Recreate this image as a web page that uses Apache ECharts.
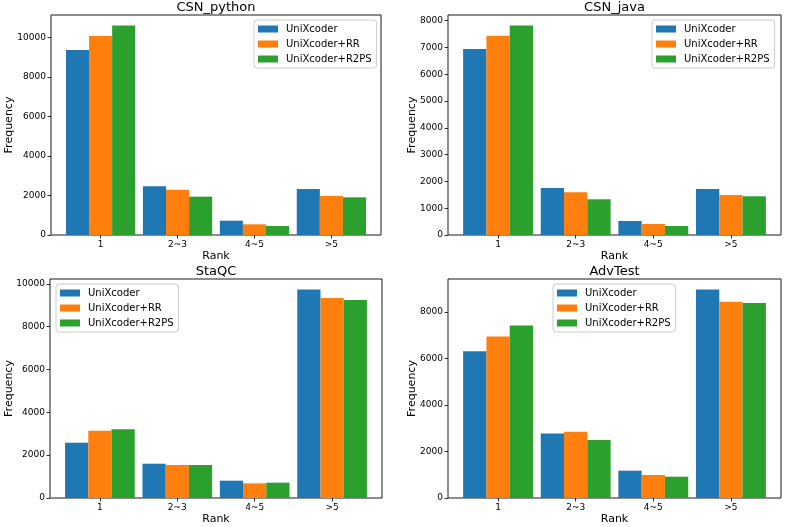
<!DOCTYPE html>
<html>
<head>
<meta charset="utf-8">
<script src="https://cdn.jsdelivr.net/npm/echarts@6/dist/echarts.min.js"></script>
<style>html,body{margin:0;padding:0;background:#fff}#c{width:789px;height:527px}</style>
</head>
<body>
<div id="c"></div>
<script>
const categories = ['1', '2~3', '4~5', '>5'];
const seriesNames = ['UniXcoder', 'UniXcoder+RR', 'UniXcoder+R2PS'];
const colors = ['#1f77b4', '#ff7f0e', '#2ca02c'];
const panelTitles = ['CSN_python', 'CSN_java', 'StaQC', 'AdvTest'];

const pythonUni  = [9360, 2460, 725, 2330];
const pythonRR   = [10070, 2290, 540, 1975];
const pythonR2PS = [10600, 1940, 455, 1905];
const javaUni    = [6940, 1757, 523, 1720];
const javaRR     = [7440, 1595, 411, 1495];
const javaR2PS   = [7820, 1333, 336, 1445];
const staqcUni   = [2580, 1600, 809, 9735];
const staqcRR    = [3140, 1540, 684, 9330];
const staqcR2PS  = [3205, 1540, 715, 9240];
const advUni     = [6300, 2776, 1174, 8960];
const advRR      = [6940, 2848, 987, 8430];
const advR2PS    = [7413, 2490, 916, 8372];

const pythonTicks = [0, 2000, 4000, 6000, 8000, 10000];
const javaTicks   = [0, 1000, 2000, 3000, 4000, 5000, 6000, 7000, 8000];
const staqcTicks  = [0, 2000, 4000, 6000, 8000, 10000];
const advTicks    = [0, 2000, 4000, 6000, 8000];

const panelData = [
  [pythonUni, pythonRR, pythonR2PS],
  [javaUni, javaRR, javaR2PS],
  [staqcUni, staqcRR, staqcR2PS],
  [advUni, advRR, advR2PS]
];
const panelTicks = [pythonTicks, javaTicks, staqcTicks, advTicks];

// layout (pixels)
const grids = [
  {left: 51, top: 15, width: 330, height: 220},
  {left: 448, top: 15, width: 333, height: 220},
  {left: 50, top: 279, width: 332, height: 219},
  {left: 448, top: 279, width: 333, height: 219}
];
const titleTops = [1, 1, 265, 265];
const legendPos = [
  {left: 254, top: 20},
  {left: 652, top: 20},
  {left: 56, top: 284},
  {left: 553, top: 284}
];
const yNameGap = [36, 30, 35, 30];

const font = 'DejaVu Sans';
const xMin = -0.645, xMax = 3.645;
const barUnits = 0.3;

const option = {
  animation: false,
  textStyle: {fontFamily: font},
  title: [], grid: [], xAxis: [], yAxis: [], legend: [], series: []
};

for (let p = 0; p < 4; p++) {
  const g = grids[p];
  option.grid.push({left: g.left, top: g.top, width: g.width, height: g.height,
    show: true, borderColor: '#000', borderWidth: 0.9, backgroundColor: 'transparent', containLabel: false});
  option.title.push({text: panelTitles[p], left: g.left + g.width / 2, top: titleTops[p], textAlign: 'center', padding: 0,
    textStyle: {fontFamily: font, fontSize: 13, fontWeight: 'normal', color: '#000'}});
  const maxV = Math.max(...panelData[p].flat()) * 1.05;
  option.xAxis.push({
    type: 'value', gridIndex: p, min: xMin, max: xMax,
    name: 'Rank', nameLocation: 'middle', nameGap: 16, nameMoveOverlap: false,
    nameTextStyle: {fontFamily: font, fontSize: 11, color: '#000'},
    axisLine: {show: false, onZero: false}, splitLine: {show: false},
    axisTick: {show: true, length: 3.5, lineStyle: {color: '#000', width: 0.8}, customValues: [0, 1, 2, 3]},
    axisLabel: {customValues: [0, 1, 2, 3], formatter: v => categories[Math.round(v)],
      fontFamily: font, fontSize: 9, color: '#000', margin: 5}
  });
  option.yAxis.push({
    type: 'value', gridIndex: p, min: 0, max: maxV,
    name: 'Frequency', nameLocation: 'middle', nameGap: yNameGap[p], nameMoveOverlap: false,
    nameTextStyle: {fontFamily: font, fontSize: 11, color: '#000'},
    axisLine: {show: false, onZero: false}, splitLine: {show: false},
    axisTick: {show: true, length: 3.5, lineStyle: {color: '#000', width: 0.8}, customValues: panelTicks[p]},
    axisLabel: {customValues: panelTicks[p], formatter: v => String(v),
      fontFamily: font, fontSize: 9, color: '#000', margin: 5}
  });
  option.legend.push({
    data: seriesNames, orient: 'vertical', left: legendPos[p].left, top: legendPos[p].top,
    icon: 'rect', itemWidth: 20, itemHeight: 7, itemGap: 3,
    padding: [3, 5, 3, 4], borderColor: '#ccc', borderWidth: 1, borderRadius: 3,
    backgroundColor: 'rgba(255,255,255,0.8)',
    textStyle: {fontFamily: font, fontSize: 10, color: '#000', lineHeight: 12, padding: [0, 0, 0, 3]}
  });
  const bw = g.width / (xMax - xMin) * barUnits;
  for (let s = 0; s < 3; s++) {
    option.series.push({
      type: 'bar', name: seriesNames[s], xAxisIndex: p, yAxisIndex: p,
      barWidth: bw, barGap: '0%',
      itemStyle: {color: colors[s]},
      data: panelData[p][s].map((v, i) => [i, v])
    });
  }
}

const chart = echarts.init(document.getElementById('c'), null, {renderer: 'canvas'});
chart.setOption(option);
</script>
</body>
</html>
